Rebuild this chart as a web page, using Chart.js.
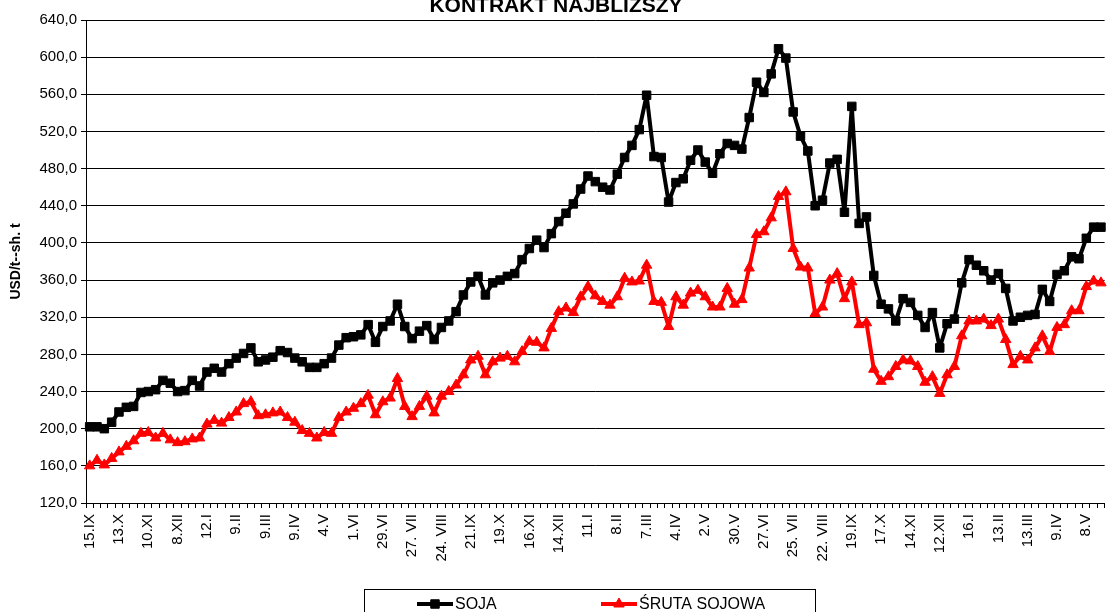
<!DOCTYPE html>
<html>
<head>
<meta charset="utf-8">
<script src="https://cdn.jsdelivr.net/npm/chart.js@4.4.0/dist/chart.umd.min.js"></script>
<style>
html, body { margin: 0; padding: 0; overflow: hidden; background: #fff; }
canvas { display: block; }
</style>
</head>
<body>
<canvas id="chart" width="1125" height="612"></canvas>
<script>
const chartTitle = "KONTRAKT NAJBLIŻSZY";
const yTitle = "USD/t--sh. t";

// one label every 4 weeks
const xLabels = ["15.IX", "13.X", "10.XI", "8.XII", "12.I", "9.II", "9.III", "9.IV", "4.V", "1.VI",
    "29.VI", "27. VII", "24. VIII", "21.IX", "19.X", "16.XI", "14.XII", "11.I", "8.II", "7.III",
    "4.IV", "2.V", "30.V", "27.VI", "25. VII", "22. VIII", "19.IX", "17.X", "14.XI", "12.XII",
    "16.I", "13.II", "13.III", "9.IV", "8.V"];

const soja = [
    202, 202, 200, 207, 218, 223, 224, 239, 240, 242,
    252, 249, 240, 241, 252, 246, 261, 265, 261, 270,
    276, 281, 287, 272, 274, 277, 284, 282, 276, 272,
    266, 266, 270, 276, 290, 298, 299, 301, 312, 293,
    310, 316, 334, 310, 297, 305, 311, 296, 309, 316,
    326, 344, 358, 364, 344, 357, 360, 364, 367, 382,
    394, 403, 395, 410, 423, 432, 442, 458, 472, 466,
    460, 457, 474, 492, 505, 522, 559, 493, 492, 444,
    465, 469, 489, 500, 487, 475, 496, 507, 505, 501,
    535, 573, 562, 582, 609, 599, 541, 515, 499, 440,
    446, 486, 490, 433, 547, 421, 428, 365, 334, 329,
    316, 340, 336, 322, 309, 325, 287, 313, 318, 357,
    382, 376, 370, 360, 367, 351, 316, 320, 322, 323,
    350, 337, 366, 370, 385, 383, 405, 417, 417
];

const sruta = [
    160, 166, 161, 168, 175, 181, 187, 195, 196, 190,
    195, 188, 185, 186, 189, 190, 205, 209, 206, 212,
    218, 227, 229, 214, 215, 217, 218, 212, 207, 198,
    195, 190, 196, 195, 212, 218, 222, 227, 236, 215,
    229, 233, 254, 224, 213, 224, 235, 217, 235, 240,
    247, 258, 274, 278, 258, 272, 276, 278, 272, 283,
    294, 293, 287, 308, 326, 330, 325, 342, 353, 343,
    337, 333, 342, 362, 358, 359, 376, 337, 336, 310,
    342, 333, 346, 349, 342, 331, 331, 351, 334, 339,
    373, 409, 412, 427, 450, 455, 394, 374, 373, 324,
    331, 360, 367, 340, 358, 312, 314, 264, 251, 256,
    267, 274, 273, 267, 250, 256, 238, 258, 267, 300,
    316, 316, 318, 311, 318, 296, 269, 278, 274, 287,
    300, 283, 309, 312, 327, 327, 353, 359, 357
];

const weeks = soja.map((v, i) => (i % 4 === 0 ? xLabels[i / 4] : ""));

Chart.defaults.font.family = '"Liberation Sans", Arial, sans-serif';
Chart.defaults.color = "#000";

// title sits half cut off at the top of the picture
const topTitle = {
    id: "topTitle",
    afterDraw(chart) {
        const ctx = chart.ctx;
        ctx.save();
        ctx.font = 'bold 21px "Liberation Sans", Arial, sans-serif';
        ctx.fillStyle = "#000";
        ctx.textAlign = "center";
        ctx.textBaseline = "alphabetic";
        ctx.fillText(chartTitle, 556, 12);
        ctx.restore();
    }
};

// boxed legend under the axis labels
const boxLegend = {
    id: "boxLegend",
    afterDraw(chart) {
        const ctx = chart.ctx;
        const spots = [{ line: 417, text: 455 }, { line: 601, text: 639 }];
        ctx.save();
        ctx.strokeStyle = "#000";
        ctx.lineWidth = 1;
        ctx.strokeRect(364.5, 589.5, 451, 40);
        chart.data.datasets.forEach((ds, i) => {
            const s = spots[i];
            const y = 604;
            ctx.strokeStyle = ds.borderColor;
            ctx.fillStyle = ds.borderColor;
            ctx.lineWidth = 4;
            ctx.beginPath();
            ctx.moveTo(s.line, y);
            ctx.lineTo(s.line + 36, y);
            ctx.stroke();
            ctx.lineWidth = 1;
            Chart.helpers.drawPoint(ctx, { pointStyle: ds.pointStyle, radius: ds.pointRadius, borderWidth: 1, rotation: 0 }, s.line + 18, y);
            ctx.fillStyle = "#000";
            ctx.font = '16px "Liberation Sans", Arial, sans-serif';
            ctx.textBaseline = "middle";
            ctx.fillText(ds.label, s.text, y + 1);
        });
        ctx.restore();
    }
};

new Chart(document.getElementById("chart"), {
    type: "line",
    data: {
        labels: weeks,
        datasets: [
            {
                label: "SOJA",
                data: soja,
                borderColor: "#000000",
                backgroundColor: "#000000",
                borderWidth: 4,
                borderJoinStyle: "round",
                pointStyle: "rect",
                pointRadius: 6,
                pointBorderWidth: 1,
                tension: 0
            },
            {
                label: "ŚRUTA SOJOWA",
                data: sruta,
                borderColor: "#FF0000",
                backgroundColor: "#FF0000",
                borderWidth: 4,
                borderJoinStyle: "round",
                pointStyle: "triangle",
                pointRadius: 6,
                pointBorderWidth: 1,
                tension: 0
            }
        ]
    },
    options: {
        responsive: false,
        animation: false,
        layout: { padding: { top: 20, right: 10, left: 0, bottom: 0 } },
        plugins: {
            legend: { display: false },
            tooltip: { enabled: false }
        },
        scales: {
            x: {
                offset: true,
                afterFit: (scale) => { scale.height = 109; },
                grid: { offset: true, drawOnChartArea: false, drawTicks: true, tickLength: 5, tickColor: "#000" },
                border: { display: true, color: "#000", width: 1 },
                ticks: {
                    autoSkip: false,
                    maxRotation: 90,
                    minRotation: 90,
                    padding: 6,
                    font: { size: 15 }
                }
            },
            y: {
                min: 120,
                max: 640,
                afterFit: (scale) => { scale.width = 86; },
                grid: { color: "#000", lineWidth: 1, drawTicks: true, tickLength: 5, tickColor: "#000" },
                border: { display: true, color: "#000", width: 1 },
                ticks: {
                    stepSize: 40,
                    padding: 4,
                    font: { size: 15 },
                    callback: (v) => v.toFixed(1).replace(".", ",")
                },
                title: {
                    display: true,
                    text: yTitle,
                    font: { size: 14, weight: "bold" },
                    padding: { top: 8, bottom: 0 }
                }
            }
        }
    },
    plugins: [topTitle, boxLegend]
});
</script>
</body>
</html>
